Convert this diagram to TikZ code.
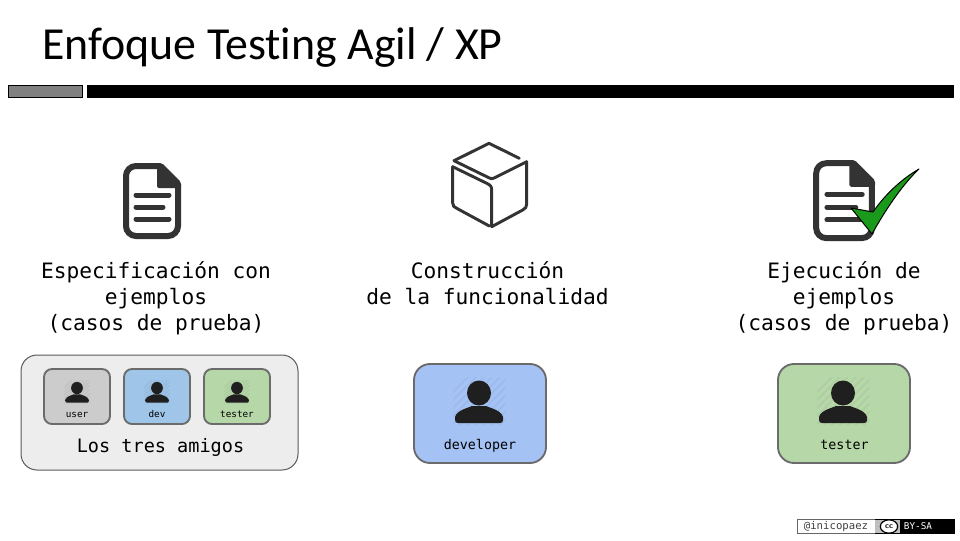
\documentclass[tikz,border=0pt]{standalone}
\usepackage{fontspec}
\usetikzlibrary{shapes.geometric}
\setmainfont[Ligatures=NoCommon]{Carlito}
\setmonofont{DejaVu Sans Mono}
\definecolor{darkicon}{HTML}{333333}
\definecolor{cardgray}{HTML}{CCCCCC}
\definecolor{cardblue}{HTML}{9FC5E8}
\definecolor{cardsky}{HTML}{A4C2F4}
\definecolor{cardgreen}{HTML}{B6D7A8}
\definecolor{checkgreen}{HTML}{1A9A1A}
\tikzset{
	pasotexto/.style={font=\ttfamily\fontsize{15.9pt}{19.5pt}\selectfont, align=center, inner sep=0pt},
	tarjeta/.style={draw=black!58, line width=1.4pt, rounded corners=#1},
	nombre/.style={font=\ttfamily\fontsize{10pt}{11pt}\selectfont, inner sep=0pt, anchor=base},
	nombrechico/.style={font=\ttfamily\fontsize{7pt}{8pt}\selectfont, inner sep=0pt, anchor=base},
	persona/.pic={
		\begin{scope}
			\clip (-26,-16) rectangle (26,31);
			\foreach \d in {-40,-32,...,48}
				\draw[black, opacity=.05, line width=1pt] (\d-20,33) -- (\d+30,-17);
		\end{scope}
		\fill[black!88] (0,0) ellipse (12 and 12.5);
		\fill[black!88] (-7,13) -- (7,13) .. controls (11,15) and (22,17) .. (24,24)
			-- (24,27) .. controls (24,29) and (23,30) .. (21,30) -- (-21,30)
			.. controls (-23,30) and (-24,29) .. (-24,27) -- (-24,24)
			.. controls (-22,17) and (-11,15) .. (-7,13) -- cycle;
	},
	hoja/.pic={
		\draw[darkicon, line width=4.5pt, rounded corners=7.5pt] (36,3) -- (3,3) -- (3,73) -- (55,73) -- (55,22);
		\fill[darkicon, rounded corners=1.5pt] (34,0) -- (39,0) -- (58,19) -- (58,25) -- (34,25) -- cycle;
		\draw[darkicon, line width=3.75pt, line cap=round]
			(13,32) -- (46,32) (13,44) -- (40,44) (13,56) -- (46,56);
	}
}

\begin{document}
\begin{tikzpicture}[x=.75pt, y=-.75pt]
	\useasboundingbox (0,0) rectangle (960,540);

	\node[anchor=west, inner sep=0pt, font=\fontsize{34.4pt}{36pt}\selectfont] (titulo) at (42,48) {Enfoque Testing Agil / XP};
	\node[draw=black, fill=black!50, line width=.75pt, minimum width=55.5pt, minimum height=9pt, inner sep=0pt] (barragris) at (45.5,91) {};
	\node[fill=black, minimum width=650.25pt, minimum height=9.75pt, inner sep=0pt] (barranegra) at (520.5,91) {};

	% iconos
	\pic at (123,163) {hoja};
	\pic[scale=1.07] at (813,160) {hoja};
	\begin{scope}[darkicon, line width=2.2pt, line cap=round, line join=round]
		\draw (454,160.7) -- (489,143.3) -- (519.3,158.3);
		\draw (454,160.7) -- (489,177.8) .. controls (491,179) and (492.5,179) .. (494.5,177.8) -- (526.7,161.7);
		\draw (452.7,166.7) -- (486.7,183.3) .. controls (490,185) and (491.7,186) .. (491.7,190) -- (491.7,226.7)
			-- (522.7,210) .. controls (525.5,208.5) and (526.7,207) .. (526.7,204) -- (526.7,161.7);
		\draw (452.7,166.7) -- (452.7,203) .. controls (452.7,206) and (454,207) .. (456.7,208.3) -- (489.3,226);
	\end{scope}
	\draw[black, fill=checkgreen, line width=.75pt, line join=round] (851,208) -- (873,212)
		.. controls (884,196) and (900,180) .. (919,169) .. controls (904,183) and (887,207) .. (872,234) -- cycle;

	% textos
	\node[pasotexto] (especificacion) at (156,298) {Especificación con\\ejemplos\\(casos de prueba)};
	\node[pasotexto] (construccion) at (487.5,283) {Construcción\\de la funcionalidad};
	\node[pasotexto] (ejecucion) at (844,298) {Ejecución de\\ejemplos\\(casos de prueba)};

	% los tres amigos
	\node[draw=black!65, fill=black!7, line width=.75pt, rounded corners=12pt, minimum width=207.75pt, minimum height=86.25pt, inner sep=0pt] (amigos) at (159.5,412.5) {};
	\node[tarjeta=6pt, fill=cardgray, minimum width=49.5pt, minimum height=41.25pt, inner sep=0pt] (cuser) at (77,396.5) {};
	\node[tarjeta=6pt, fill=cardblue, minimum width=49.5pt, minimum height=41.25pt, inner sep=0pt] (cdev) at (157,396.5) {};
	\node[tarjeta=6pt, fill=cardgreen, minimum width=49.5pt, minimum height=41.25pt, inner sep=0pt] (ctester) at (237,396.5) {};
	\foreach \x in {77,157,237}
		\pic[scale=.49] at (\x,388) {persona};
	\node[nombrechico] (luser) at (77,417.5) {user};
	\node[nombrechico] (ldev) at (157,417.5) {dev};
	\node[nombrechico] (ltester) at (237,417.5) {tester};
	\node[inner sep=0pt, anchor=base, font=\ttfamily\fontsize{13.9pt}{15pt}\selectfont] (lamigos) at (160.5,452) {Los tres amigos};

	% developer y tester
	\node[tarjeta=12pt, fill=cardsky, minimum width=99pt, minimum height=74.25pt, inner sep=0pt] (cdeveloper) at (480,413.5) {};
	\node[tarjeta=12pt, fill=cardgreen, minimum width=99pt, minimum height=74.25pt, inner sep=0pt] (ctesterdos) at (844,413.5) {};
	\pic at (479,393) {persona};
	\pic at (843,393) {persona};
	\node[nombre] (ldeveloper) at (480,449) {developer};
	\node[nombre] (ltesterdos) at (844.5,449) {tester};

	% pie
	\node[draw=black!60, fill=white, line width=.75pt, minimum width=58.5pt, minimum height=11pt, inner sep=0pt, font=\ttfamily\fontsize{8pt}{9pt}\selectfont, text=black!75] (autor) at (836,526.5) {@inicopaez};
	\node[fill=black, draw=black, line width=.75pt, minimum width=59.5pt, minimum height=11pt, inner sep=0pt] (licencia) at (915,526.5) {};
	\node[fill=black!25, minimum width=18.5pt, minimum height=10pt, inner sep=0pt] (ccfondo) at (887.5,526.5) {};
	\node[ellipse, draw=black, fill=white, line width=.9pt, minimum width=13pt, minimum height=10pt, inner sep=0pt, font=\sffamily\bfseries\fontsize{6pt}{6pt}\selectfont] (cc) at (889,526.5) {cc};
	\node[text=white, inner sep=0pt, font=\ttfamily\fontsize{7pt}{7pt}\selectfont] (bysa) at (918,526.5) {BY-SA};
\end{tikzpicture}
\end{document}
